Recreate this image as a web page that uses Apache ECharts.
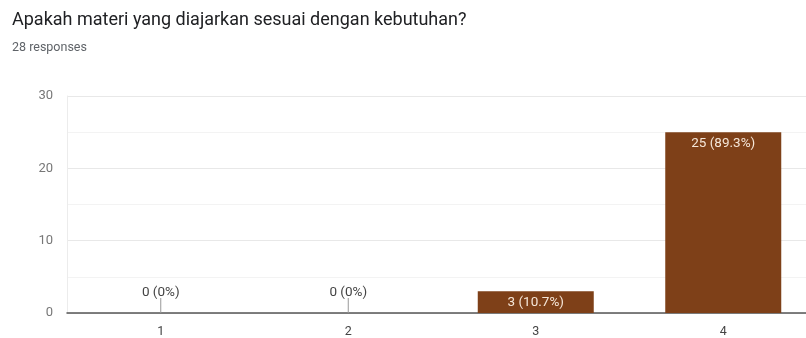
<!DOCTYPE html>
<html><head><meta charset="utf-8">
<script src="https://cdn.jsdelivr.net/npm/echarts@6/dist/echarts.min.js"></script>
<style>html,body{margin:0;padding:0;background:#fff;overflow:hidden}#c{width:820px;height:338px}</style>
</head><body><div id="c"></div>
<script>
const titleText = 'Apakah materi yang diajarkan sesuai dengan kebutuhan?';
const subText = '28 responses';
const categories = ['1', '2', '3', '4'];
const counts = [0, 0, 3, 25];
const percentLabels = ['0%', '0%', '10.7%', '89.3%'];
const yTicks = [0, 10, 20, 30];

const chart = echarts.init(document.getElementById('c'), null, {renderer: 'canvas'});
const font = 'Roboto, Arial, sans-serif';
chart.setOption({
  animation: false,
  title: [
    {text: titleText, left: 7, top: 6, padding: [5, 5], textStyle: {fontFamily: font, fontSize: 18, fontWeight: 'normal', color: '#202124'}},
    {text: subText, left: 7, top: 36, textStyle: {fontFamily: font, fontSize: 12.5, fontWeight: 'normal', color: '#5f6368'}}
  ],
  grid: {left: 67, top: 96, width: 750, height: 219, containLabel: false},
  xAxis: {
    type: 'category', data: categories,
    axisLine: {lineStyle: {color: '#555', width: 1.5}},
    axisTick: {show: false},
    axisLabel: {fontFamily: font, fontSize: 12.5, color: '#444', margin: 12}
  },
  yAxis: {
    type: 'value', min: yTicks[0], max: yTicks[yTicks.length - 1], interval: 10,
    axisLine: {show: true, lineStyle: {color: '#ececec', width: 1}}, axisTick: {show: false},
    axisLabel: {fontFamily: font, fontSize: 13, color: '#777', margin: 14},
    splitLine: {lineStyle: {color: '#e8e8e8'}},
    minorTick: {show: false, splitNumber: 2},
    minorSplitLine: {show: true, lineStyle: {color: '#f3f3f3'}}
  },
  series: [
    {
      type: 'bar', data: counts, barWidth: 116,
      itemStyle: {color: '#7e4018'},
      label: {
        show: true, position: 'insideTop', distance: 4,
        fontFamily: font, fontSize: 13.5, color: '#f5e6d8',
        formatter: p => p.value === 0 ? '' : p.value + ' (' + percentLabels[p.dataIndex] + ')'
      }
    },
    {
      type: 'custom',
      data: counts.map((v, i) => [i, v]),
      renderItem: function (params, api) {
        const v = api.value(1);
        if (v !== 0) return null;
        const p = api.coord([api.value(0), 0]);
        return {
          type: 'group',
          children: [
            {type: 'line', shape: {x1: p[0], y1: p[1], x2: p[0], y2: p[1] - 15}, style: {stroke: '#999', lineWidth: 1}},
            {type: 'text', style: {text: v + ' (' + percentLabels[params.dataIndex] + ')', x: p[0], y: p[1] - 13, align: 'center', verticalAlign: 'bottom', font: '13.5px Roboto, Arial, sans-serif', fill: '#444'}}
          ]
        };
      },
      z: 5
    }
  ]
});
</script></body></html>
